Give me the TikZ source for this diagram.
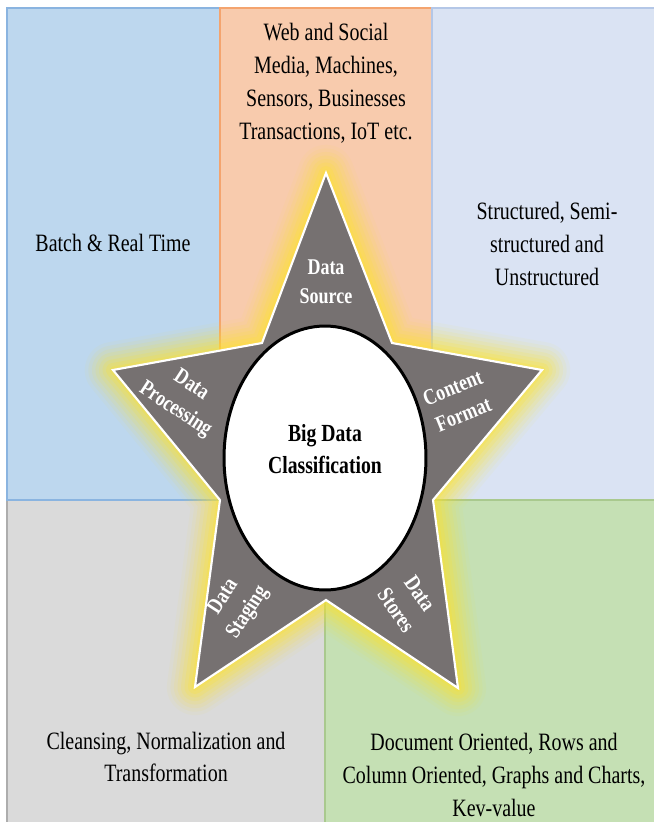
\documentclass[tikz,border=0pt]{standalone}
\usepackage{fontspec}
\setmainfont{Liberation Serif}[FakeStretch=0.8]
\usetikzlibrary{shapes.geometric}

\definecolor{blueback}{HTML}{BDD7EE}
\definecolor{blueedge}{HTML}{8AB4E0}
\definecolor{peachback}{HTML}{F8CBAD}
\definecolor{peachedge}{HTML}{F4A46E}
\definecolor{lavenderback}{HTML}{DAE3F3}
\definecolor{lavenderedge}{HTML}{B4C7E7}
\definecolor{greyback}{HTML}{DADADA}
\definecolor{greyedge}{HTML}{ADADAD}
\definecolor{greenback}{HTML}{C5E0B4}
\definecolor{greenedge}{HTML}{A9C98E}
\definecolor{starfill}{HTML}{767171}
\definecolor{glowcolor}{HTML}{FFE42A}

% outline of the five pointed star
\newcommand\starpath{(326,173) -- (392,343) -- (542,370) -- (433,500) -- (458,688)
  -- (326,600) -- (195,687) -- (220,500) -- (113,370) -- (262,343) -- cycle}

\tikzset{
  panel/.style={draw=#1edge, fill=#1back, line width=0.6pt},
  note/.style={align=center, text=black, font=\fontsize{14.2}{18.7}\selectfont},
  arm/.style={align=center, text=white, font=\bfseries\fontsize{12.8}{16.4}\selectfont},
  hub/.style={ellipse, draw=black, fill=white, line width=1.7pt, inner sep=0pt,
    minimum width=4.04cm, minimum height=5.28cm},
  title/.style={align=center, text=black, font=\bfseries\fontsize{14}{18.1}\selectfont}
}

\begin{document}
\begin{tikzpicture}[x=0.02cm, y=-0.02cm]
  \useasboundingbox[fill=white] (0,0) rectangle (653,822);
  %% Panels
  \draw[panel=grey] (7,500) rectangle (325,830);
  \draw[panel=blue] (7,8) rectangle (220,500);
  \draw[panel=peach] (220,8) rectangle (432,500);
  \draw[panel=lavender] (432,8) rectangle (660,500);
  \draw[panel=green] (325,500) rectangle (660,830);

  %% Glow and star
  \foreach \w/\o in {32/0.05, 28/0.07, 24/0.09, 20/0.11, 16/0.13, 12/0.16, 8/0.2, 4/0.24}
    \draw[glowcolor, line width=\w pt, draw opacity=\o, line join=round] \starpath;
  \draw[fill=starfill, draw=white, line width=1.2pt] \starpath;
  \node[hub] (core) at (325,458) {};
  \node[title] (title) at (325,449) {Big Data\\Classification};

  %% Arm labels
  \node[arm] (source) at (326,282) {Data\\Source};
  \node[arm, rotate=-33] (processing) at (183,398) {Data\\Processing};
  \node[arm, rotate=22] (format) at (458,401) {Content\\Format};
  \node[arm, rotate=57] (staging) at (236,605) {Data\\Staging};
  \node[arm, rotate=-55] (stores) at (408,602) {Data\\Stores};

  %% Panel texts
  \node[note] (sources) at (326,83) {Web and Social\\Media, Machines,\\Sensors, Businesses\\Transactions, IoT etc.};
  \node[note] (batch) at (113,243) {Batch \& Real Time};
  \node[note] (formats) at (547,244) {Structured, Semi-\\structured and\\Unstructured};
  \node[note] (cleansing) at (166,757) {Cleansing, Normalization and\\Transformation};
  \node[note] (storage) at (494,775) {Document Oriented, Rows and\\Column Oriented, Graphs and Charts,\\Kev-value};
\end{tikzpicture}
\end{document}
